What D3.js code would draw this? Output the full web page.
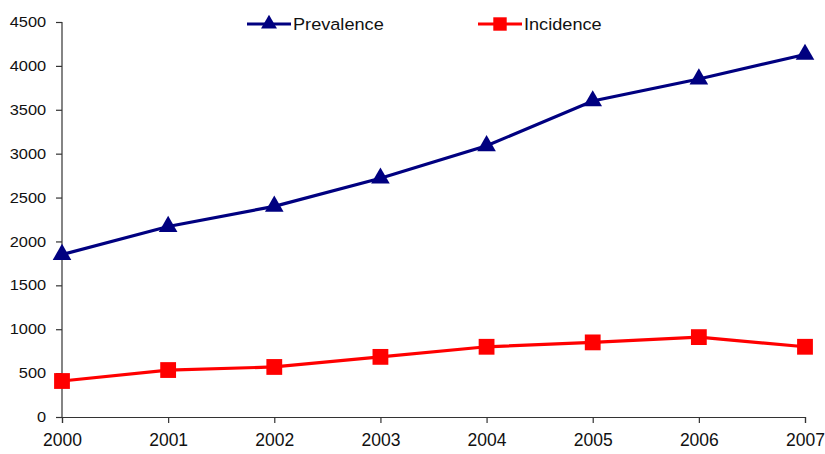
<!DOCTYPE html>
<html>
<head>
<meta charset="utf-8">
<script src="https://cdn.jsdelivr.net/npm/d3@7"></script>
<style>
  body { margin: 0; background: #fff; }
  text { font-family: "Liberation Sans", Arial, sans-serif; }
</style>
</head>
<body>
<div id="chart"></div>
<script>
// Data
const years = [2000, 2001, 2002, 2003, 2004, 2005, 2006, 2007];
const prevalence = [1850, 2170, 2400, 2720, 3090, 3600, 3850, 4130];
const incidence = [410, 535, 570, 685, 800, 850, 910, 800];
const yTicks = [0, 500, 1000, 1500, 2000, 2500, 3000, 3500, 4000, 4500];

const series = [
  { name: "Prevalence", values: prevalence, color: "#000080", symbol: d3.symbolTriangle },
  { name: "Incidence", values: incidence, color: "#FF0000", symbol: d3.symbolSquare },
];

// Dimensions
const dimensions = { width: 825, height: 454, left: 62, top: 22 };
dimensions.ctrWidth = 805 - dimensions.left;
dimensions.ctrHeight = 417 - dimensions.top;

const svg = d3
  .select("#chart")
  .append("svg")
  .attr("width", dimensions.width)
  .attr("height", dimensions.height);

const ctr = svg
  .append("g")
  .attr("transform", `translate(${dimensions.left}, ${dimensions.top})`);

// Scales
const xScale = d3.scalePoint().domain(years).range([0, dimensions.ctrWidth]);
const yScale = d3.scaleLinear().domain([0, 4500]).range([dimensions.ctrHeight, 0]);

// Axes
const yAxis = d3
  .axisLeft(yScale)
  .tickValues(yTicks)
  .tickFormat(d3.format("d"))
  .tickSize(6)
  .tickPadding(8);
const gY = ctr.append("g").call(yAxis);
gY.selectAll("text")
  .style("font-size", "14.5px")
  .style("fill", "#111")
  .attr("transform", "scale(1.13,1)");
gY.selectAll("line, path").attr("stroke", "#333").attr("stroke-width", 1.2);
gY.select(".domain").attr("d", `M0,${dimensions.ctrHeight}V0`);

const xAxis = d3.axisBottom(xScale).tickFormat(d3.format("d")).tickSize(6).tickPadding(11);
const gX = ctr
  .append("g")
  .attr("transform", `translate(0, ${dimensions.ctrHeight})`)
  .call(xAxis);
gX.selectAll("text").style("font-size", "17.5px").style("fill", "#111");
gX.selectAll("line, path").attr("stroke", "#333").attr("stroke-width", 1.2);

// Lines and markers
const lineGenerator = d3
  .line()
  .x((d, i) => xScale(years[i]))
  .y((d) => yScale(d));

series.forEach((s) => {
  ctr
    .append("path")
    .datum(s.values)
    .attr("d", lineGenerator)
    .attr("fill", "none")
    .attr("stroke", s.color)
    .attr("stroke-width", 3.2);

  ctr
    .selectAll(null)
    .data(s.values)
    .join("path")
    .attr("d", d3.symbol().type(s.symbol).size(s.symbol === d3.symbolSquare ? 250 : 150))
    .attr("transform", (d, i) => `translate(${xScale(years[i])}, ${yScale(d)})`)
    .attr("fill", s.color);
});

// Legend
const legend = svg.append("g").attr("transform", "translate(247, 24)");
const legendX = [0, 231];
series.forEach((s, i) => {
  const g = legend.append("g").attr("transform", `translate(${legendX[i]}, 0)`);
  g.append("line")
    .attr("x1", 0)
    .attr("x2", 44)
    .attr("stroke", s.color)
    .attr("stroke-width", 3.2);
  g.append("path")
    .attr("d", d3.symbol().type(s.symbol).size(s.symbol === d3.symbolSquare ? 180 : 110))
    .attr("transform", "translate(22, 0)")
    .attr("fill", s.color);
  g.append("text")
    .attr("transform", "translate(46, 6) scale(1.1,1)")
    .style("font-size", "16.5px")
    .style("fill", "#111")
    .text(s.name);
});
</script>
</body>
</html>
